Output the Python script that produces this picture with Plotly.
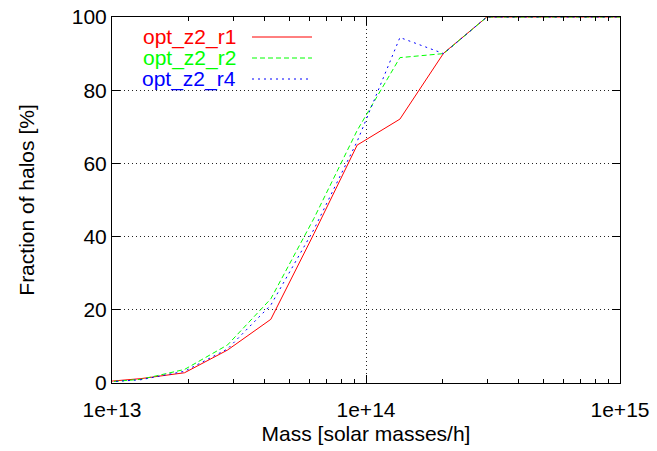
import plotly.graph_objects as go

mass = [8.81e12, 1.30e13, 1.93e13, 2.85e13, 4.22e13, 6.24e13, 9.23e13,
        1.36e14, 2.02e14, 2.99e14, 4.42e14, 6.53e14, 9.66e14, 1.43e15]
r1 = [0.2, 1.2, 2.8, 9.0, 17.4, 40.8, 65.0, 72.1, 90.1, 100, 100, 100, 100, 100]
r2 = [0.1, 1.0, 3.7, 10.4, 23.0, 45.0, 69.0, 88.9, 90.0, 100, 100, 100, 100, 100]
r4 = [0.1, 0.9, 3.2, 9.3, 21.3, 42.0, 66.0, 94.4, 90.0, 100, 100, 100, 100, 100]

names = ["opt_z2_r1", "opt_z2_r2", "opt_z2_r4"]
colors = ["#ff0000", "#00ff00", "#0000ff"]
dashes = ["solid", "5px,3px", "2px,4px"]
series = [r1, r2, r4]

FONT = "Liberation Sans, Arial, Helvetica, sans-serif"
FS = 21

fig = go.Figure()
for name, ys, c, d in zip(names, series, colors, dashes):
    fig.add_trace(go.Scatter(x=mass, y=ys, mode="lines", name=name,
                             line=dict(color=c, width=1, dash=d),
                             showlegend=False))

# legend (gnuplot style: text right-aligned, sample line to the right)
legend_y = [37, 58, 79]
for name, c, d, yy in zip(names, colors, dashes, legend_y):
    yp = 1 - (yy - 17) / 366
    fig.add_annotation(x=(238 - 112) / 508, y=yp, xref="paper", yref="paper",
                       text=name, showarrow=False, xanchor="right", yanchor="middle",
                       font=dict(color=c, size=FS, family=FONT))
    fig.add_shape(type="line", xref="paper", yref="paper",
                  x0=(252 - 112) / 508, x1=(312 - 112) / 508, y0=yp, y1=yp,
                  line=dict(color=c, width=1, dash=d))

fig.update_layout(
    width=657, height=451,
    margin=dict(l=112, r=37, t=17, b=68),
    paper_bgcolor="white", plot_bgcolor="white",
    font=dict(family=FONT, size=FS, color="black"),
    showlegend=False,
)
fig.update_xaxes(
    type="log", range=[13, 15], automargin=False,
    tickvals=[1e13, 1e14, 1e15], ticktext=["1e+13", "1e+14", "1e+15"],
    ticks="inside", ticklen=8, tickcolor="black", tickwidth=1,
    ticklabelstandoff=8,
    showline=True, linecolor="black", linewidth=1, mirror="ticks",
    showgrid=True, gridcolor="#222", griddash="1px,3px", gridwidth=1,
    minor=dict(ticks="inside", ticklen=4, tickcolor="black", showgrid=False,
               tickvals=[2e13, 3e13, 4e13, 5e13, 6e13, 7e13, 8e13, 9e13,
                         2e14, 3e14, 4e14, 5e14, 6e14, 7e14, 8e14, 9e14]),
    zeroline=False,
    title=dict(text="Mass [solar masses/h]", standoff=6, font=dict(size=FS)),
    tickfont=dict(size=FS),
)
fig.update_yaxes(
    range=[0, 100], tickvals=[0, 20, 40, 60, 80, 100], automargin=False,
    ticks="inside", ticklen=8, tickcolor="black", tickwidth=1,
    showline=True, linecolor="black", linewidth=1, mirror="ticks",
    showgrid=True, gridcolor="#222", griddash="1px,3px", gridwidth=1,
    zeroline=False,
    title=dict(text="Fraction of halos [%]", standoff=31, font=dict(size=FS)),
    tickfont=dict(size=FS),
)

fig.write_html("out.html")
